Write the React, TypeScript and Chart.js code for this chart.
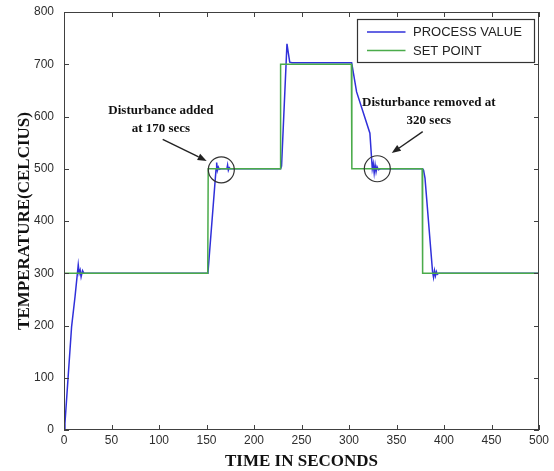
import React, { useEffect, useRef } from "react";
import { Chart, registerables } from "chart.js";

Chart.register(...registerables);

// ---- data ----
const pvTime = [
  0, 1, 8, 11.6, 15, 16, 17, 18, 19.5, 21,
  151.5, 160, 160.7, 161.5, 162.5, 163.5, 165,
  171.5, 172.2, 173, 174, 175,
  228, 229, 234.7, 237.6, 240,
  302.8, 308, 322, 324.5, 325.5, 326.5, 327.5, 328.5, 329.5, 331, 333,
  377.5, 378.5, 380, 388, 389, 390, 391, 392, 393, 394.5, 500,
];
const pvTemp = [
  0, 13, 198, 255, 316, 300, 306, 293, 305, 300,
  300, 498, 512, 497, 503, 499, 500,
  500, 507, 497, 502, 500,
  500, 505, 739, 704, 703,
  703, 647, 568, 500, 510, 492, 507, 494, 504, 498, 500,
  500, 497, 482, 302, 292, 305, 295, 303, 298, 300, 300,
];
const spTime = [0, 151.3, 151.8, 227.5, 228, 302.5, 303, 377, 377.5, 500];
const spTemp = [300, 300, 500, 500, 700, 700, 500, 500, 300, 300];

const seriesNames = ["PROCESS VALUE", "SET POINT"];
const xTitle = "TIME IN SECONDS";
const yTitle = "TEMPERATURE(CELCIUS)";

const noteAddedLines = ["Disturbance added", "at 170 secs"];
const noteRemovedLines = ["Disturbance removed at", "320 secs"];

// annotation anchors in data coordinates (time, temperature)
const noteAddedAt = { t: 102, v: 612 };
const noteRemovedAt = { t: 384, v: 627 };
const arrowAdded = { t0: 103.9, v0: 556, t1: 150.2, v1: 515 };
const arrowRemoved = { t0: 377.6, v0: 571, t1: 345, v1: 530 };
const circleAdded = { t: 165.6, v: 498 };
const circleRemoved = { t: 329.8, v: 500 };

const BLUE = "#3030da";
const GREEN = "#4aab4a";
const AXIS = "#404040";
const TEXT = "#2e2e2e";

function drawArrow(ctx: CanvasRenderingContext2D, x0: number, y0: number, x1: number, y1: number) {
  const ang = Math.atan2(y1 - y0, x1 - x0);
  const head = 9;
  const hw = 3.5;
  const bx = x1 - head * Math.cos(ang);
  const by = y1 - head * Math.sin(ang);
  ctx.beginPath();
  ctx.moveTo(x0, y0);
  ctx.lineTo(bx, by);
  ctx.stroke();
  ctx.beginPath();
  ctx.moveTo(x1, y1);
  ctx.lineTo(bx + hw * Math.sin(ang), by - hw * Math.cos(ang));
  ctx.lineTo(bx - hw * Math.sin(ang), by + hw * Math.cos(ang));
  ctx.closePath();
  ctx.fill();
}

const decor = {
  id: "decor",
  afterDatasetsDraw(chart: any) {
    const { ctx, chartArea: a, scales } = chart;
    const x = scales.x;
    const y = scales.y;
    ctx.save();

    // box
    ctx.strokeStyle = AXIS;
    ctx.lineWidth = 1;
    ctx.strokeRect(Math.round(a.left) + 0.5, Math.round(a.top) + 0.5, Math.round(a.right - a.left) - 1, Math.round(a.bottom - a.top) - 1);

    // inward ticks
    const tl = 5;
    ctx.beginPath();
    x.ticks.forEach((t: any) => {
      const px = Math.round(x.getPixelForValue(t.value)) + 0.5;
      ctx.moveTo(px, a.bottom);
      ctx.lineTo(px, a.bottom - tl);
      ctx.moveTo(px, a.top);
      ctx.lineTo(px, a.top + tl);
    });
    y.ticks.forEach((t: any) => {
      const py = Math.round(y.getPixelForValue(t.value)) + 0.5;
      ctx.moveTo(a.left, py);
      ctx.lineTo(a.left + tl, py);
      ctx.moveTo(a.right, py);
      ctx.lineTo(a.right - tl, py);
    });
    ctx.stroke();

    // circles
    ctx.strokeStyle = "#333";
    ctx.lineWidth = 1.2;
    [circleAdded, circleRemoved].forEach((c) => {
      ctx.beginPath();
      ctx.arc(x.getPixelForValue(c.t), y.getPixelForValue(c.v), 13, 0, Math.PI * 2);
      ctx.stroke();
    });

    // arrows
    ctx.strokeStyle = "#222";
    ctx.fillStyle = "#222";
    ctx.lineWidth = 1.4;
    [arrowAdded, arrowRemoved].forEach((ar) => {
      drawArrow(
        ctx,
        x.getPixelForValue(ar.t0),
        y.getPixelForValue(ar.v0),
        x.getPixelForValue(ar.t1),
        y.getPixelForValue(ar.v1)
      );
    });

    // notes
    ctx.font = 'bold 13px "Liberation Serif", "Times New Roman", serif';
    ctx.fillStyle = "#111";
    ctx.textAlign = "center";
    ctx.textBaseline = "middle";
    const drawNote = (lines: string[], at: { t: number; v: number }) => {
      const cx = x.getPixelForValue(at.t);
      const cy = y.getPixelForValue(at.v);
      lines.forEach((s, i) => ctx.fillText(s, cx, cy + i * 18));
    };
    drawNote(noteAddedLines, noteAddedAt);
    drawNote(noteRemovedLines, noteRemovedAt);

    // legend
    const bw = 177;
    const bh = 43;
    const bx = Math.round(a.right - 182) + 0.5;
    const by = Math.round(a.top + 7) + 0.5;
    ctx.fillStyle = "#fff";
    ctx.fillRect(bx, by, bw, bh);
    ctx.strokeStyle = "#333";
    ctx.lineWidth = 1.2;
    ctx.strokeRect(bx, by, bw, bh);
    const colors = [BLUE, GREEN];
    const rows = [by + 12.5, by + 31];
    ctx.font = '13px "Liberation Sans", Arial, sans-serif';
    ctx.textAlign = "left";
    seriesNames.forEach((name, i) => {
      ctx.strokeStyle = colors[i];
      ctx.lineWidth = 1.3;
      ctx.beginPath();
      ctx.moveTo(bx + 9.5, rows[i]);
      ctx.lineTo(bx + 48, rows[i]);
      ctx.stroke();
      ctx.fillStyle = "#222";
      ctx.fillText(name, bx + 55.5, rows[i] + 0.5);
    });

    // axis titles
    ctx.fillStyle = "#111";
    ctx.font = 'bold 17px "Liberation Serif", "Times New Roman", serif';
    ctx.textAlign = "center";
    ctx.textBaseline = "middle";
    ctx.fillText(xTitle, (a.left + a.right) / 2, 462);
    ctx.save();
    ctx.translate(25, (a.top + a.bottom) / 2);
    ctx.rotate(-Math.PI / 2);
    ctx.fillText(yTitle, 0, 0);
    ctx.restore();

    ctx.restore();
  },
};

export default function App() {
  const ref = useRef<HTMLCanvasElement | null>(null);

  useEffect(() => {
    document.body.style.margin = "0";
    const canvas = ref.current;
    if (!canvas) return;
    const tickFont = { family: '"Liberation Sans", Arial, sans-serif', size: 12 };
    const chart = new Chart(canvas, {
      type: "line",
      data: {
        datasets: [
          {
            label: seriesNames[0],
            data: pvTime.map((t, i) => ({ x: t, y: pvTemp[i] })),
            borderColor: BLUE,
            borderWidth: 1.5,
            pointRadius: 0,
            tension: 0,
            fill: false,
            order: 1,
          },
          {
            label: seriesNames[1],
            data: spTime.map((t, i) => ({ x: t, y: spTemp[i] })),
            borderColor: GREEN,
            borderWidth: 1.5,
            pointRadius: 0,
            tension: 0,
            fill: false,
            order: 0,
          },
        ],
      },
      options: {
        animation: false,
        responsive: false,
        layout: { padding: { top: 12, right: 15, left: 0, bottom: 0 } },
        plugins: { legend: { display: false }, tooltip: { enabled: false } },
        scales: {
          x: {
            type: "linear",
            min: 0,
            max: 500,
            ticks: { stepSize: 50, font: tickFont, color: TEXT, padding: 3, maxRotation: 0 },
            grid: { display: false, drawTicks: false },
            border: { display: false },
            afterFit: (s: any) => {
              s.height = 41;
              s.paddingLeft = 0;
              s.paddingRight = 0;
            },
          },
          y: {
            type: "linear",
            min: 0,
            max: 800,
            ticks: { stepSize: 100, font: tickFont, color: TEXT, padding: 10 },
            grid: { display: false, drawTicks: false },
            border: { display: false },
            afterFit: (s: any) => {
              s.width = 64;
              s.paddingTop = 0;
              s.paddingBottom = 0;
            },
          },
        },
      },
      plugins: [decor],
    } as any);
    return () => chart.destroy();
  }, []);

  return (
    <div style={{ width: 554, height: 471, background: "#fff" }}>
      <canvas ref={ref} width={554} height={471} />
    </div>
  );
}
